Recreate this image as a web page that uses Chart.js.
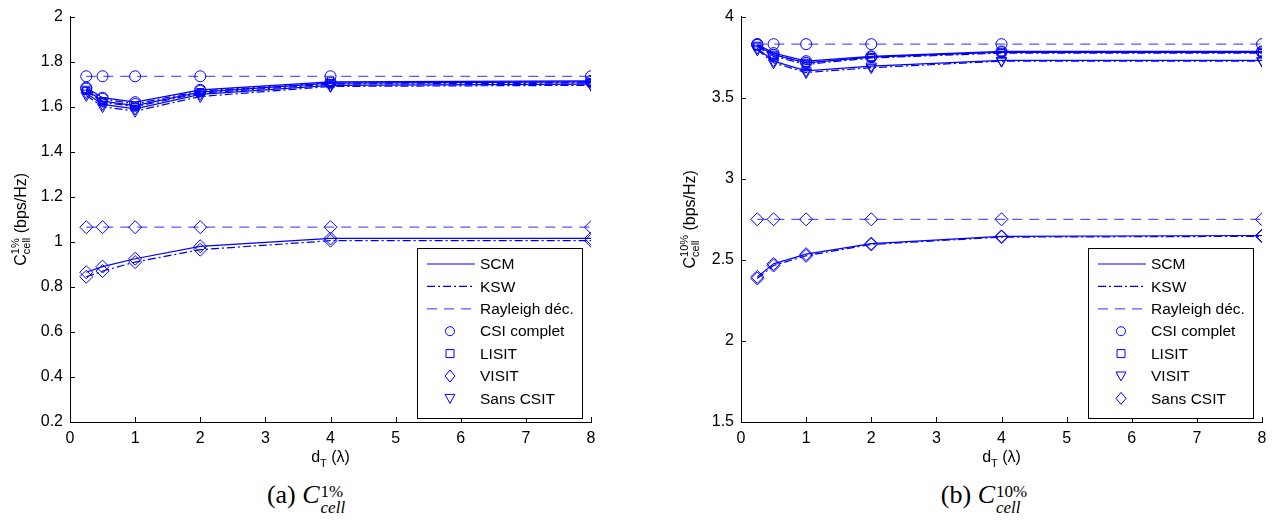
<!DOCTYPE html>
<html>
<head>
<meta charset="utf-8">
<script src="https://cdn.jsdelivr.net/npm/chart.js"></script>
<style>
body{margin:0;background:#fff;width:1274px;height:529px;overflow:hidden;position:relative}
canvas{position:absolute;top:0}
.cap{position:absolute;top:480px;font-family:"Liberation Serif","DejaVu Serif",serif;font-size:26px;white-space:nowrap;transform:translateX(-50%)}
.stack{display:inline-block;vertical-align:-10px;line-height:16px;font-size:17px;margin-left:1px}
.stack span{display:block}
</style>
</head>
<body>
<canvas id="graficoA" width="637" height="470" style="left:0"></canvas>
<canvas id="graficoB" width="637" height="470" style="left:637px"></canvas>
<div class="cap" style="left:306px">(a) <i>C</i><span class="stack"><span>1%</span><span><i>cell</i></span></span></div>
<div class="cap" style="left:984px">(b) <i>C</i><span class="stack"><span>10%</span><span><i>cell</i></span></span></div>
<script>
// ===============================
// DADOS
// ===============================

const xVals = [0.25, 0.5, 1, 2, 4, 8];
const xTicks = [0, 1, 2, 3, 4, 5, 6, 7, 8];
const yTicksA = [0.2, 0.4, 0.6, 0.8, 1, 1.2, 1.4, 1.6, 1.8, 2];
const yTicksB = [1.5, 2, 2.5, 3, 3.5, 4];

const legendLabels = ["SCM", "KSW", "Rayleigh déc.", "CSI complet", "LISIT", "VISIT", "Sans CSIT"];

// (a) C 1%
const scmCsiA   = [1.685, 1.64, 1.62, 1.675, 1.71, 1.715];
const scmLisitA = [1.675, 1.625, 1.605, 1.665, 1.705, 1.71];
const scmVisitA = [1.66, 1.61, 1.59, 1.655, 1.695, 1.70];
const scmSansA  = [0.865, 0.89, 0.925, 0.98, 1.015, 1.015];
const kswCsiA   = [1.68, 1.635, 1.612, 1.67, 1.705, 1.71];
const kswLisitA = [1.67, 1.62, 1.60, 1.66, 1.70, 1.705];
const kswVisitA = [1.65, 1.60, 1.58, 1.645, 1.69, 1.695];
const kswSansA  = [0.845, 0.87, 0.91, 0.965, 1.005, 1.005];
const rayCsiA   = [1.735, 1.735, 1.735, 1.735, 1.735, 1.735];
const raySansA  = [1.065, 1.065, 1.065, 1.065, 1.065, 1.065];

// (b) C 10%
const scmCsiB   = [3.83, 3.775, 3.725, 3.755, 3.785, 3.785];
const scmLisitB = [3.82, 3.765, 3.715, 3.75, 3.78, 3.78];
const scmVisitB = [3.805, 3.725, 3.665, 3.695, 3.73, 3.73];
const scmSansB  = [2.395, 2.475, 2.535, 2.60, 2.645, 2.65];
const kswCsiB   = [3.825, 3.765, 3.715, 3.75, 3.78, 3.78];
const kswLisitB = [3.815, 3.755, 3.705, 3.745, 3.775, 3.775];
const kswVisitB = [3.795, 3.715, 3.655, 3.685, 3.725, 3.725];
const kswSansB  = [2.385, 2.465, 2.525, 2.595, 2.64, 2.645];
const rayCsiB   = [3.83, 3.83, 3.83, 3.83, 3.83, 3.83];
const raySansB  = [2.75, 2.75, 2.75, 2.75, 2.75, 2.75];

// ===============================
// ESTILOS
// ===============================

const AZUL = "#0000ff";
const FONTE = "'Liberation Sans', Arial, sans-serif";

const linhas = {
    scm: { dash: [], cor: AZUL },
    ksw: { dash: [8, 3, 2, 3], cor: "#0000dd" },
    ray: { dash: [10, 7], cor: "#5a5aff" }
};

const marcadores = {
    circulo:  { pointStyle: "circle", radius: 5.5, rotation: 0 },
    quadrado: { pointStyle: "rect", radius: 5, rotation: 0 },
    triangulo:{ pointStyle: "triangle", radius: 6, rotation: 180 },
    losango:  { pointStyle: "rectRot", radius: 6.5, rotation: 0 }
};

function serie(valores, linha, marcador) {
    const l = linhas[linha];
    const m = marcadores[marcador];
    return {
        data: xVals.map((x, i) => ({ x: x, y: valores[i] })),
        borderColor: l.cor,
        borderWidth: 1.2,
        borderDash: l.dash,
        fill: false,
        tension: 0,
        pointStyle: m.pointStyle,
        pointRadius: m.radius,
        pointRotation: m.rotation,
        pointBorderColor: AZUL,
        pointBackgroundColor: "rgba(0,0,0,0)",
        pointBorderWidth: 1
    };
}

function desenhaMarcador(ctx, tipo, x, y) {
    ctx.beginPath();
    if (tipo === "circulo") {
        ctx.arc(x, y, 4.5, 0, Math.PI * 2);
    } else if (tipo === "quadrado") {
        ctx.rect(x - 4, y - 4, 8, 8);
    } else if (tipo === "losango") {
        ctx.moveTo(x, y - 6); ctx.lineTo(x + 5, y); ctx.lineTo(x, y + 6); ctx.lineTo(x - 5, y); ctx.closePath();
    } else {
        ctx.moveTo(x - 5, y - 4); ctx.lineTo(x + 5, y - 4); ctx.lineTo(x, y + 5); ctx.closePath();
    }
    ctx.stroke();
}

// plugin: ticks internos, títulos dos eixos e legenda
function decoracao(cfg) {
    return {
        id: "decoracao",
        afterDraw(chart) {
            const ctx = chart.ctx;
            const area = chart.chartArea;
            const sx = chart.scales.x, sy = chart.scales.y;
            ctx.save();

            // ticks para dentro
            ctx.strokeStyle = "#000";
            ctx.lineWidth = 1;
            ctx.beginPath();
            sx.ticks.forEach(t => {
                const p = Math.round(sx.getPixelForValue(t.value)) + 0.5;
                ctx.moveTo(p, area.bottom); ctx.lineTo(p, area.bottom - 5);
            });
            sy.ticks.forEach(t => {
                const p = Math.round(sy.getPixelForValue(t.value)) + 0.5;
                ctx.moveTo(area.left, p); ctx.lineTo(area.left + 5, p);
            });
            ctx.stroke();

            // título eixo x: d_T (λ)
            ctx.fillStyle = "#000";
            ctx.textBaseline = "alphabetic";
            const grande = "16px " + FONTE, pequeno = "11px " + FONTE;
            ctx.font = grande;
            const wD = ctx.measureText("d").width;
            const wR = ctx.measureText(" (λ)").width;
            ctx.font = pequeno;
            const wT = ctx.measureText("T").width;
            let x0 = (area.left + area.right) / 2 - (wD + wT + wR) / 2;
            const yb = area.bottom + 40;
            ctx.font = grande; ctx.fillText("d", x0, yb);
            ctx.font = pequeno; ctx.fillText("T", x0 + wD, yb + 5);
            ctx.font = grande; ctx.fillText(" (λ)", x0 + wD + wT, yb);

            // título eixo y: C_cell^x% (bps/Hz)
            ctx.save();
            ctx.translate(cfg.yTituloX, (area.top + area.bottom) / 2);
            ctx.rotate(-Math.PI / 2);
            ctx.font = grande;
            const wC = ctx.measureText("C").width;
            const wU = ctx.measureText(" (bps/Hz)").width;
            ctx.font = pequeno;
            const wS = Math.max(ctx.measureText("cell").width, ctx.measureText(cfg.sup).width);
            x0 = -(wC + wS + wU) / 2;
            ctx.font = grande; ctx.fillText("C", x0, 0);
            ctx.font = pequeno;
            ctx.fillText(cfg.sup, x0 + wC, -7);
            ctx.fillText("cell", x0 + wC, 4);
            ctx.font = grande; ctx.fillText(" (bps/Hz)", x0 + wC + wS, 0);
            ctx.restore();

            // legenda
            const lr = area.right - 9, ll = lr - 165, lt = 248, lb = 418;
            ctx.fillStyle = "#fff";
            ctx.fillRect(ll, lt, lr - ll, lb - lt);
            ctx.strokeStyle = "#000";
            ctx.lineWidth = 1;
            ctx.strokeRect(ll + 0.5, lt + 0.5, lr - ll, lb - lt);
            const tiposLinha = ["scm", "ksw", "ray"];
            ctx.font = "15.5px " + FONTE;
            ctx.textBaseline = "middle";
            legendLabels.forEach((txt, i) => {
                const y = lt + 16 + i * 22.4;
                if (i < 3) {
                    const l = linhas[tiposLinha[i]];
                    ctx.strokeStyle = l.cor;
                    ctx.setLineDash(l.dash);
                    ctx.lineWidth = 1.2;
                    ctx.beginPath();
                    ctx.moveTo(ll + 10, y); ctx.lineTo(ll + 58, y);
                    ctx.stroke();
                    ctx.setLineDash([]);
                } else {
                    ctx.strokeStyle = AZUL;
                    ctx.lineWidth = 1;
                    desenhaMarcador(ctx, cfg.marcadores[i - 3], ll + 33, y);
                }
                ctx.fillStyle = "#000";
                ctx.fillText(txt, ll + 63, y + 1);
            });
            ctx.restore();
        }
    };
}

function grafico(id, series, yTicks, yMin, yMax, larguraY, padDir, cfg) {
    new Chart(document.getElementById(id), {
        type: "line",
        data: { datasets: series },
        options: {
            responsive: false,
            animation: false,
            layout: { padding: { left: 0, right: padDir, top: 12, bottom: 0 } },
            plugins: { legend: { display: false }, tooltip: { enabled: false } },
            scales: {
                x: {
                    type: "linear", min: 0, max: 8,
                    afterBuildTicks: s => { s.ticks = xTicks.map(v => ({ value: v })); },
                    afterFit: s => { s.height = 48; },
                    grid: { display: false, drawTicks: false },
                    border: { display: true, color: "#000", width: 1 },
                    ticks: { color: "#000", font: { family: FONTE, size: 16 }, padding: 7, maxRotation: 0 }
                },
                y: {
                    type: "linear", min: yMin, max: yMax,
                    afterBuildTicks: s => { s.ticks = yTicks.map(v => ({ value: v })); },
                    afterFit: s => { s.width = larguraY; },
                    grid: { display: false, drawTicks: false },
                    border: { display: true, color: "#000", width: 1 },
                    ticks: { color: "#000", font: { family: FONTE, size: 16 }, padding: 7,
                        callback: v => String(+v.toFixed(1)) }
                }
            }
        },
        plugins: [decoracao(cfg)]
    });
}

// ===============================
// INIT
// ===============================

grafico("graficoA", [
    serie(rayCsiA, "ray", "circulo"),
    serie(raySansA, "ray", "losango"),
    serie(scmCsiA, "scm", "circulo"),
    serie(scmLisitA, "scm", "quadrado"),
    serie(scmVisitA, "scm", "triangulo"),
    serie(scmSansA, "scm", "losango"),
    serie(kswCsiA, "ksw", "circulo"),
    serie(kswLisitA, "ksw", "quadrado"),
    serie(kswVisitA, "ksw", "triangulo"),
    serie(kswSansA, "ksw", "losango")
], yTicksA, 0.2, 2, 70, 46, {
    sup: "1%", yTituloX: 26,
    marcadores: ["circulo", "quadrado", "losango", "triangulo"]
});

grafico("graficoB", [
    serie(rayCsiB, "ray", "circulo"),
    serie(raySansB, "ray", "losango"),
    serie(scmCsiB, "scm", "circulo"),
    serie(scmLisitB, "scm", "quadrado"),
    serie(scmVisitB, "scm", "triangulo"),
    serie(scmSansB, "scm", "losango"),
    serie(kswCsiB, "ksw", "circulo"),
    serie(kswLisitB, "ksw", "quadrado"),
    serie(kswVisitB, "ksw", "triangulo"),
    serie(kswSansB, "ksw", "losango")
], yTicksB, 1.5, 4, 104, 12, {
    sup: "10%", yTituloX: 58,
    marcadores: ["circulo", "quadrado", "triangulo", "losango"]
});
</script>
</body>
</html>
